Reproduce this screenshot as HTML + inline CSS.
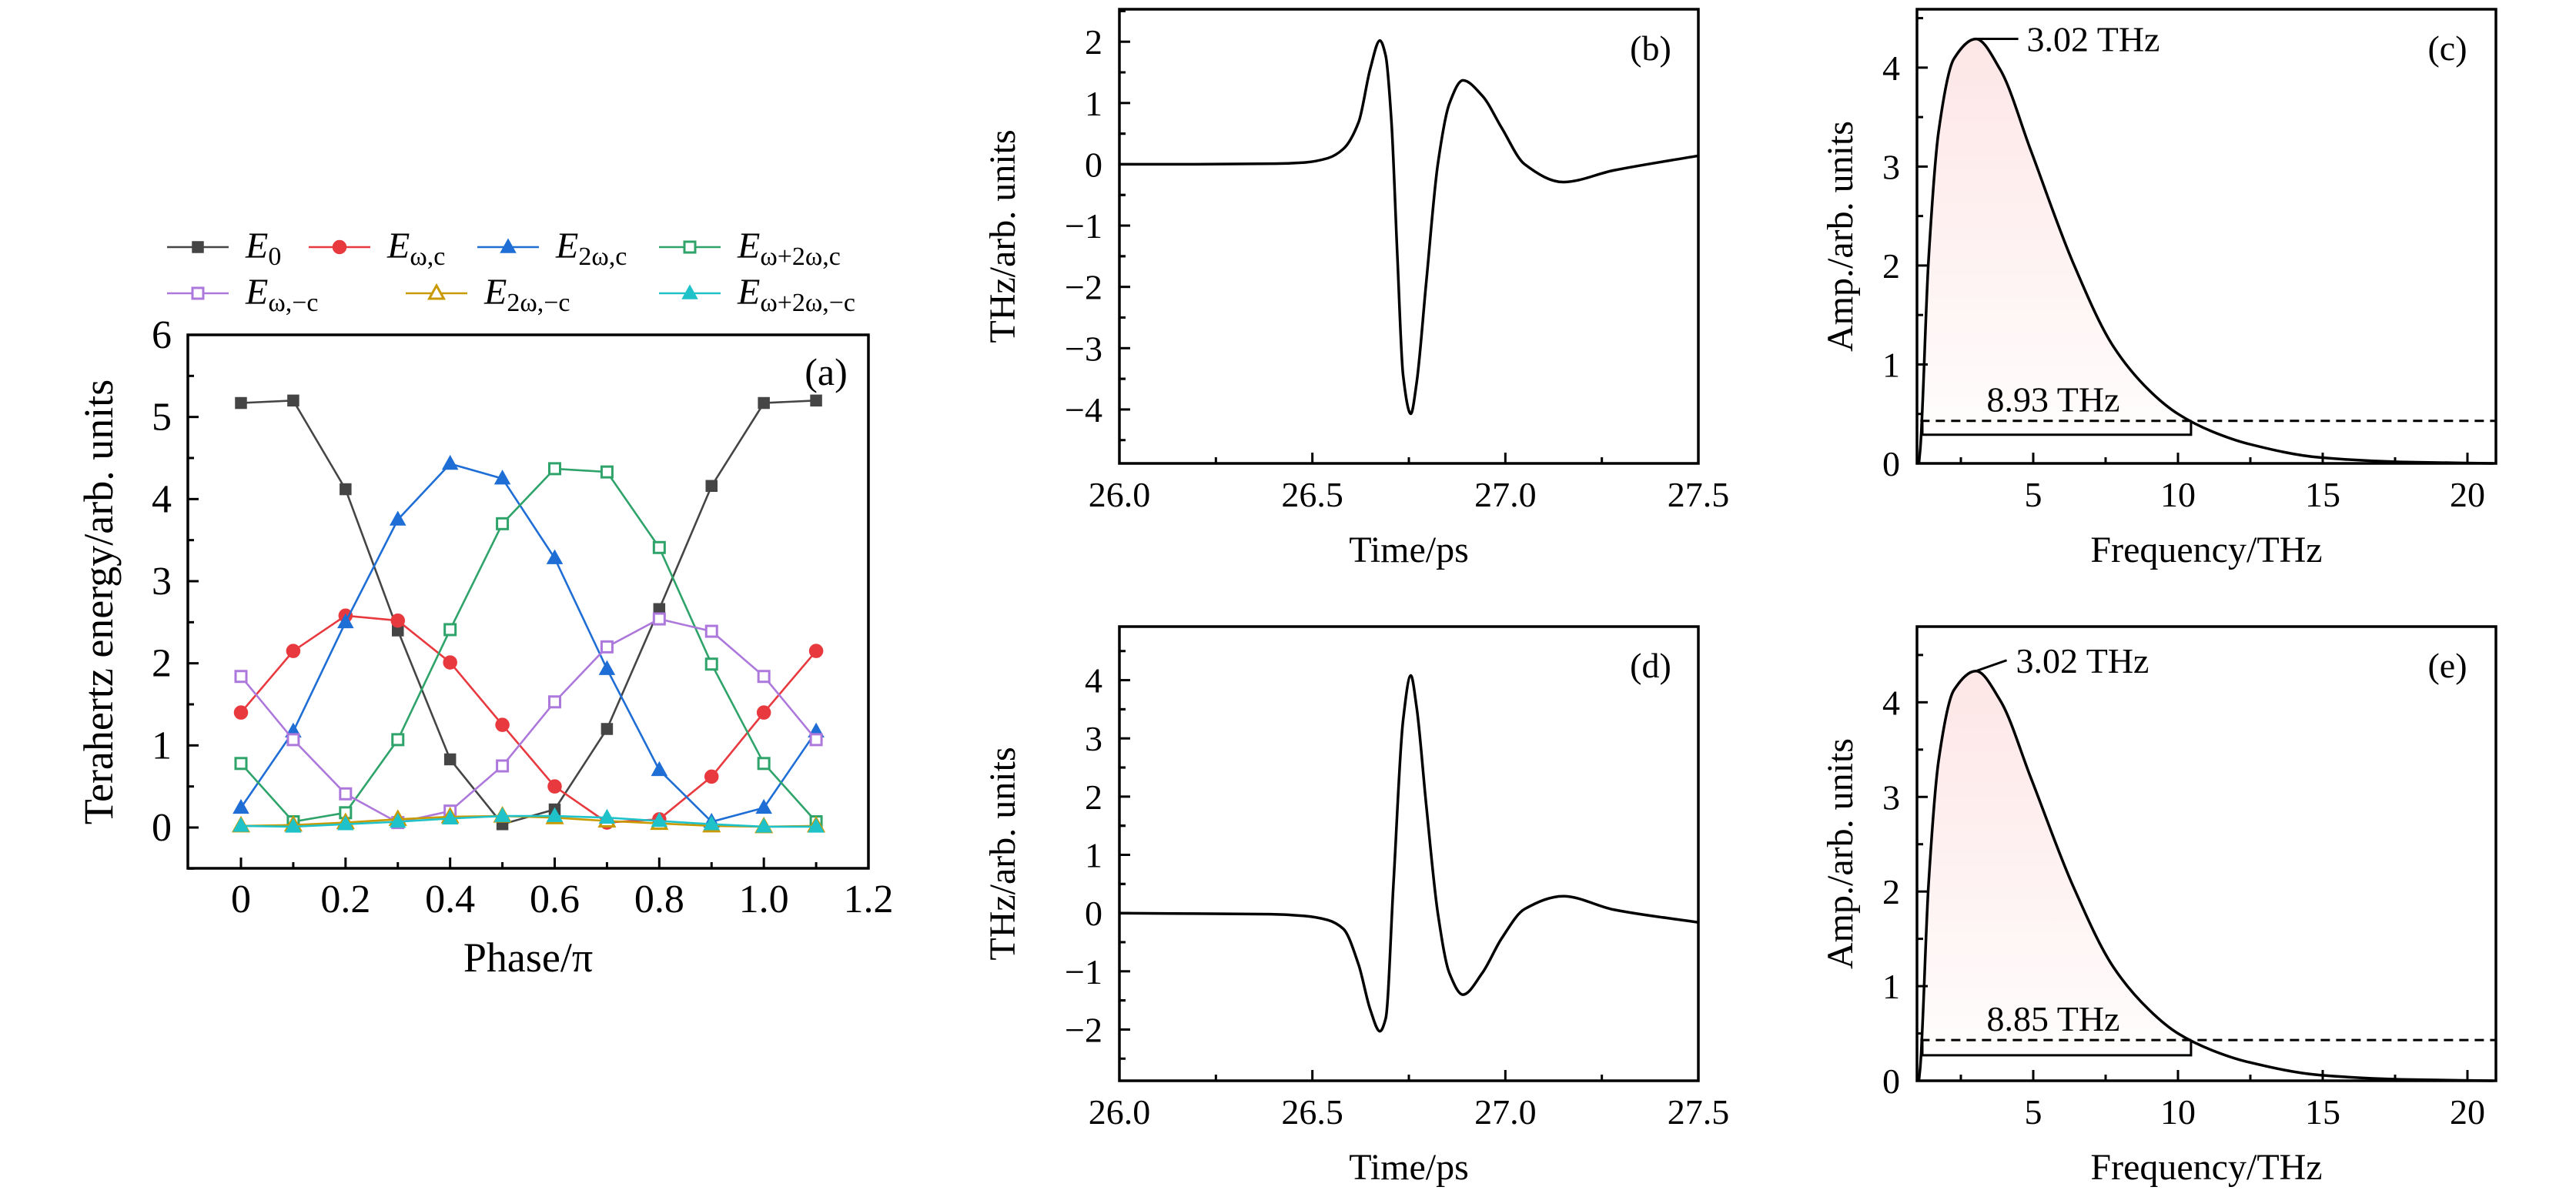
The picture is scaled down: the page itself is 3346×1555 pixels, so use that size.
<!DOCTYPE html>
<html><head><meta charset="utf-8"><style>
html,body{margin:0;padding:0;background:#fff}
svg{display:block}
text{font-family:"Liberation Serif","DejaVu Serif",serif;fill:#000}
</style></head><body>
<svg id="fig" width="3346" height="1555" viewBox="0 0 3346 1555" xmlns="http://www.w3.org/2000/svg" font-family="Liberation Serif, DejaVu Serif, serif">
<defs>
<linearGradient id="pinkC" x1="0" y1="0" x2="0" y2="1">
<stop offset="0" stop-color="#fde6e6"/><stop offset="0.75" stop-color="#fff8f8"/><stop offset="1" stop-color="#ffffff"/>
</linearGradient>
</defs>
<g id="root"></g>
</svg>
<script>
// ---------- Panel (a) data ----------
const phaseX = [0,0.1,0.2,0.3,0.4,0.5,0.6,0.7,0.8,0.9,1.0,1.1];
const sE0     = [5.17,5.2,4.12,2.4,0.83,0.04,0.22,1.2,2.66,4.16,5.17,5.2];
const sEwc    = [1.4,2.15,2.58,2.52,2.01,1.25,0.5,0.06,0.1,0.62,1.4,2.15];
const sE2wc   = [0.24,1.17,2.5,3.75,4.43,4.25,3.28,1.93,0.7,0.07,0.24,1.17];
const sEw2wc  = [0.78,0.07,0.18,1.07,2.41,3.7,4.37,4.33,3.41,1.99,0.78,0.07];
const sEwmc   = [1.84,1.07,0.41,0.06,0.2,0.75,1.53,2.2,2.54,2.39,1.84,1.07];
const sE2wmc  = [0.02,0.03,0.06,0.1,0.13,0.14,0.12,0.08,0.05,0.02,0.01,0.02];
const sEw2wmc = [0.02,0.01,0.04,0.07,0.11,0.14,0.14,0.12,0.08,0.04,0.01,0.01];
const aXTicks = [0,0.2,0.4,0.6,0.8,1.0,1.2];
const aXTickLabels = ["0","0.2","0.4","0.6","0.8","1.0","1.2"];
const aYTicks = [0,1,2,3,4,5,6];
// ---------- Panel (b),(d) data ----------
const timeB = [26.0,26.2,26.4,26.48,26.54,26.58,26.62,26.65,26.675,26.69,26.705,26.72,26.735,26.755,26.77,26.795,26.825,26.855,26.89,26.94,26.99,27.05,27.15,27.28,27.5];
const fieldB = [0,0,0.01,0.03,0.1,0.25,0.69,1.56,2.02,1.77,0.69,-1.48,-3.44,-4.07,-3.57,-1.92,0,0.99,1.37,1.12,0.6,0,-0.29,-0.1,0.14];
const timeD = [26.0,26.2,26.4,26.48,26.54,26.58,26.62,26.65,26.675,26.69,26.71,26.735,26.755,26.77,26.795,26.825,26.855,26.89,26.94,26.99,27.05,27.15,27.28,27.5];
const fieldD = [0,-0.01,-0.02,-0.05,-0.12,-0.27,-0.89,-1.66,-2.03,-1.81,0.48,3.31,4.08,3.54,1.85,0,-1.03,-1.4,-1.03,-0.44,0.07,0.29,0.06,-0.16];
const timeTicks = [26.0,26.5,27.0,27.5];
const timeTickLabels = ["26.0","26.5","27.0","27.5"];
// ---------- Panel (c),(e) data ----------
const freqC = [1.05,1.1,1.38,1.73,2.26,3.02,3.86,4.92,6.36,7.77,9.0,10.0,11.2,12.4,14.9,17.7,20.9];
const ampC  = [0.0,0.16,2.04,3.35,4.09,4.29,3.98,3.16,2.04,1.18,0.74,0.5,0.32,0.2,0.06,0.015,0.0];
const freqE = [1.05,1.1,1.38,1.73,2.26,3.02,3.86,4.92,6.36,7.77,9.0,10.0,11.2,12.4,14.9,17.7,20.9];
const ampE  = [0.0,0.16,2.06,3.38,4.13,4.33,4.02,3.2,2.07,1.2,0.75,0.5,0.32,0.2,0.06,0.015,0.0];
const freqTicks = [5,10,15,20];
const freqTickLabels = ["5","10","15","20"];
const peakC = [3.02, 4.29], peakE = [3.02, 4.33];
const cutC = [10.45, 0.43, 0.29], cutE = [10.45, 0.43, 0.27];
const peakLabelC = "3.02 THz", peakLabelE = "3.02 THz";
const cutLabelC = "8.93 THz", cutLabelE = "8.85 THz";

const NS = "http://www.w3.org/2000/svg";
const root = document.getElementById('root');
function mk(tag, attrs, parent){
  const e = document.createElementNS(NS, tag);
  for (const k in attrs) e.setAttribute(k, attrs[k]);
  (parent||root).appendChild(e);
  return e;
}
function lin(d0,d1,r0,r1){ return v => r0 + (v-d0)/(d1-d0)*(r1-r0); }
// monotone cubic (Fritsch-Carlson) in pixel space, x strictly increasing
function smoothPath(xs, ys){
  const n = xs.length, dx=[], s=[], m=[];
  for (let i=0;i<n-1;i++){ dx[i]=xs[i+1]-xs[i]; s[i]=(ys[i+1]-ys[i])/dx[i]; }
  m[0]=s[0]; m[n-1]=s[n-2];
  for (let i=1;i<n-1;i++){
    if (s[i-1]*s[i]<=0) m[i]=0;
    else { const w1=2*dx[i]+dx[i-1], w2=dx[i]+2*dx[i-1]; m[i]=(w1+w2)/(w1/s[i-1]+w2/s[i]); }
  }
  let d = "M"+xs[0].toFixed(1)+","+ys[0].toFixed(1);
  for (let i=0;i<n-1;i++){
    const h=dx[i]/3;
    d += " C"+(xs[i]+h).toFixed(1)+","+(ys[i]+m[i]*h).toFixed(1)+" "+(xs[i+1]-h).toFixed(1)+","+(ys[i+1]-m[i+1]*h).toFixed(1)+" "+xs[i+1].toFixed(1)+","+ys[i+1].toFixed(1);
  }
  return d;
}
function txt(s, x, y, size, anchor, parent){
  const t = mk('text', {x:x, y:y, 'font-size':size, 'text-anchor':anchor||'middle', 'font-family':'Liberation Serif, DejaVu Serif, serif'}, parent);
  t.textContent = s;
  return t;
}
function frame(g, L, R, T, B){
  const r = mk('rect',{x:L,y:T,width:R-L,height:B-T,fill:'none',stroke:'#000','stroke-width':3.5}, g);
  
  
}

// ================= Panel (a) =================
(function(){
  const g = mk('g',{});
  
  
  const L=244,R=1128,T=435,B=1128;
  const X = lin(0,1.2,313,1128), Y = lin(0,6,1075,435);
  frame(g,L,R,T,B);
  const ax = mk('g',{},g);
  
  
  aXTicks.forEach((v,i)=>{
    mk('line',{x1:X(v),x2:X(v),y1:B,y2:B-14,stroke:'#000','stroke-width':3},ax);
    if (i<aXTicks.length-1) mk('line',{x1:X(v+0.1),x2:X(v+0.1),y1:B,y2:B-8,stroke:'#000','stroke-width':3},ax);
    const t = txt(aXTickLabels[i], X(v), 1185, 52, 'middle', ax);
    
    
  });
  const ay = mk('g',{},g);
  
  
  aYTicks.forEach(v=>{
    mk('line',{x1:L,x2:L+14,y1:Y(v),y2:Y(v),stroke:'#000','stroke-width':3},ay);
    mk('line',{x1:L,x2:L+8,y1:Y(v-0.5),y2:Y(v-0.5),stroke:'#000','stroke-width':3},ay);
    const t = txt(String(v), 223, Y(v)+17, 52, 'end', ay);
    
    
  });
  const xt = txt('Phase/π', 686, 1262, 54, 'middle', g);
  
  
  const yt = txt('Terahertz energy/arb. units', 0, 0, 54, 'middle', g);
  yt.setAttribute('transform','translate(146,782) rotate(-90)');
  
  
  const pl = txt('(a)', 1073, 500, 50, 'middle', g);
  
  

  const series = [
    {name:'e0', vals:sE0, color:'#454545', marker:'sq', fill:'#454545'},
    {name:'e-omega-c', vals:sEwc, color:'#e8393e', marker:'circ', fill:'#e8393e'},
    {name:'e-2omega-c', vals:sE2wc, color:'#1e6ed6', marker:'tri', fill:'#1e6ed6'},
    {name:'e-omega-2omega-c', vals:sEw2wc, color:'#2ea36a', marker:'sq', fill:'#fff'},
    {name:'e-omega-minus-c', vals:sEwmc, color:'#ad78dc', marker:'sq', fill:'#fff'},
    {name:'e-2omega-minus-c', vals:sE2wmc, color:'#c99a00', marker:'tri', fill:'#fff'},
    {name:'e-omega-2omega-minus-c', vals:sEw2wmc, color:'#1fc2c8', marker:'tri', fill:'#1fc2c8'}
  ];
  function marker(parent, type, x, y, color, fill){
    let m;
    if (type==='sq') m = mk('rect',{x:x-7,y:y-7,width:14,height:14,fill:fill,stroke:color,'stroke-width':fill==='#fff'?3:1.5},parent);
    else if (type==='circ') m = mk('circle',{cx:x,cy:y,r:8.5,fill:fill,stroke:color,'stroke-width':1.5},parent);
    else m = mk('polygon',{points:(x)+","+(y-10)+" "+(x-9.5)+","+(y+7)+" "+(x+9.5)+","+(y+7),fill:fill,stroke:color,'stroke-width':fill==='#fff'?3:1.5},parent);
    return m;
  }
  series.forEach(s=>{
    const sg = mk('g',{},g);
    
    
    const pts = phaseX.map((x,i)=>X(x).toFixed(1)+","+Y(s.vals[i]).toFixed(1)).join(" ");
    mk('polyline',{points:pts,fill:'none',stroke:s.color,'stroke-width':2.6},sg);
    phaseX.forEach((x,i)=>{
      const m = marker(sg, s.marker, X(x), Y(s.vals[i]), s.color, s.fill);
      
      
    });
  });
  const lg = mk('g',{},g);
  
  
  const entries = [
    [0,217,321,'0'],[1,401,321,'ω,c'],[2,620,321,'2ω,c'],[3,856,321,'ω+2ω,c'],
    [4,217,381,'ω,−c'],[5,527,381,'2ω,−c'],[6,856,381,'ω+2ω,−c']
  ];
  entries.forEach(e=>{
    const s = series[e[0]];
    const eg = mk('g',{},lg);
    
    
    mk('line',{x1:e[1],x2:e[1]+80,y1:e[2],y2:e[2],stroke:s.color,'stroke-width':2.6},eg);
    marker(eg, s.marker, e[1]+40, e[2], s.color, s.fill);
    const t = mk('text',{x:e[1]+102,y:e[2]+14,'font-size':48,'text-anchor':'start','font-family':'Liberation Serif, DejaVu Serif, serif'},eg);
    const ts1 = mk('tspan',{'font-style':'italic'},t); ts1.textContent='E';
    const ts2 = mk('tspan',{'font-size':34,dy:9},t); ts2.textContent=e[3];
  });
})();

// ================= time panels =================
function timePanel(name, T, B, ymin, ymax, yticks, ts, vs, label){
  const g = mk('g',{});
  
  
  const L=1454,R=2206;
  const X = lin(26,27.5,L,R), Y = lin(ymin,ymax,B,T);
  frame(g,L,R,T,B);
  const ax = mk('g',{},g);
  
  
  timeTicks.forEach((v,i)=>{
    mk('line',{x1:X(v),x2:X(v),y1:B,y2:B-14,stroke:'#000','stroke-width':3},ax);
    if (i<timeTicks.length-1) mk('line',{x1:X(v+0.25),x2:X(v+0.25),y1:B,y2:B-8,stroke:'#000','stroke-width':3},ax);
    const t = txt(timeTickLabels[i], X(v), B+56, 46, 'middle', ax);
    
    
  });
  const ay = mk('g',{},g);
  
  
  yticks.forEach(v=>{
    mk('line',{x1:L,x2:L+14,y1:Y(v),y2:Y(v),stroke:'#000','stroke-width':3},ay);
    [v-0.5,v+0.5].forEach(m=>{ if(m>ymin && m<ymax) mk('line',{x1:L,x2:L+8,y1:Y(m),y2:Y(m),stroke:'#000','stroke-width':3},ay);});
    const t = txt(v<0?'−'+(-v):String(v), L-22, Y(v)+16, 46, 'end', ay);
    
    
  });
  const xt = txt('Time/ps', (L+R)/2, B+128, 48, 'middle', g);
  
  
  const yt = txt('THz/arb. units', 0, 0, 48, 'middle', g);
  yt.setAttribute('transform','translate(1318,'+((T+B)/2)+') rotate(-90)');
  
  
  const pl = txt(label, 2144, T+66, 46, 'middle', g);
  
  
  const p = mk('path',{d:smoothPath(ts.map(X), vs.map(Y)),fill:'none',stroke:'#000','stroke-width':3.5,'stroke-linejoin':'round'},g);
  
  
}
timePanel('b',12,602,-4.88,2.53,[-4,-3,-2,-1,0,1,2],timeB,fieldB,'(b)');
timePanel('d',814,1404,-2.88,4.92,[-2,-1,0,1,2,3,4],timeD,fieldD,'(d)');

// ================= spectrum panels =================
function specPanel(name, T, B, ymax, fs, as, peak, cut, peakLabel, cutLabel, label, diag){
  const g = mk('g',{});
  
  
  const L=2490,R=3242;
  const X = lin(0,20,2453,3205), Y = lin(0,ymax,B,T);
  const xs = fs.map(X), ys = as.map(Y);
  const fillIdx = fs.filter(f=>f<=cut[0]).length;
  const fd = smoothPath(xs.slice(0,fillIdx),ys.slice(0,fillIdx))+" L"+X(cut[0]).toFixed(1)+","+Y(cut[1]).toFixed(1)+" L"+X(cut[0]).toFixed(1)+","+Y(cut[2])+" L"+X(1.17).toFixed(1)+","+Y(cut[2])+" Z";
  const fp = mk('path',{d:fd,fill:'url(#pinkC)',stroke:'none'},g);
  
  
  frame(g,L,R,T,B);
  const ax = mk('g',{},g);
  
  
  freqTicks.forEach((v,i)=>{
    mk('line',{x1:X(v),x2:X(v),y1:B,y2:B-14,stroke:'#000','stroke-width':3},ax);
    mk('line',{x1:X(v-2.5),x2:X(v-2.5),y1:B,y2:B-8,stroke:'#000','stroke-width':3},ax);
    const t = txt(freqTickLabels[i], X(v), B+56, 46, 'middle', ax);
    
    
  });
  const ay = mk('g',{},g);
  
  
  [0,1,2,3,4].forEach(v=>{
    mk('line',{x1:L,x2:L+14,y1:Y(v),y2:Y(v),stroke:'#000','stroke-width':3},ay);
    if (v+0.5<ymax) mk('line',{x1:L,x2:L+8,y1:Y(v+0.5),y2:Y(v+0.5),stroke:'#000','stroke-width':3},ay);
    const t = txt(String(v), L-22, Y(v)+16, 46, 'end', ay);
    
    
  });
  const xt = txt('Frequency/THz', (L+R)/2, B+128, 48, 'middle', g);
  
  
  const yt = txt('Amp./arb. units', 0, 0, 48, 'middle', g);
  yt.setAttribute('transform','translate(2406,'+((T+B)/2)+') rotate(-90)');
  
  
  const pl = txt(label, 3179, T+66, 46, 'middle', g);
  
  
  const p = mk('path',{d:smoothPath(xs,ys),fill:'none',stroke:'#000','stroke-width':3.5,'stroke-linejoin':'round'},g);
  
  
  const dl = mk('line',{x1:X(1.1),x2:R,y1:Y(cut[1]),y2:Y(cut[1]),stroke:'#000','stroke-width':3,'stroke-dasharray':'12,8'},g);
  
  
  const br = mk('polyline',{points:X(1.17)+","+Y(cut[1])+" "+X(1.17)+","+Y(cut[2])+" "+X(cut[0])+","+Y(cut[2])+" "+X(cut[0])+","+Y(cut[1]),fill:'none',stroke:'#000','stroke-width':3},g);
  
  
  const bt = txt(cutLabel, 2667, Y(cut[1])-12, 46, 'middle', g);
  
  
  const px = X(peak[0]), py = Y(peak[1]);
  const ld = mk('line',{x1:px,y1:py,x2:diag?px+40:px+55,y2:diag?py-14:py,stroke:'#000','stroke-width':3},g);
  
  
  const ptx = txt(peakLabel, diag?px+52:px+66, diag?py+2:py+16, 46, 'start', g);
  
  
}
specPanel('c',12,602,4.59,freqC,ampC,peakC,cutC,peakLabelC,cutLabelC,'(c)',false);
specPanel('e',814,1404,4.8,freqE,ampE,peakE,cutE,peakLabelE,cutLabelE,'(e)',true);
</script>
</body></html>
